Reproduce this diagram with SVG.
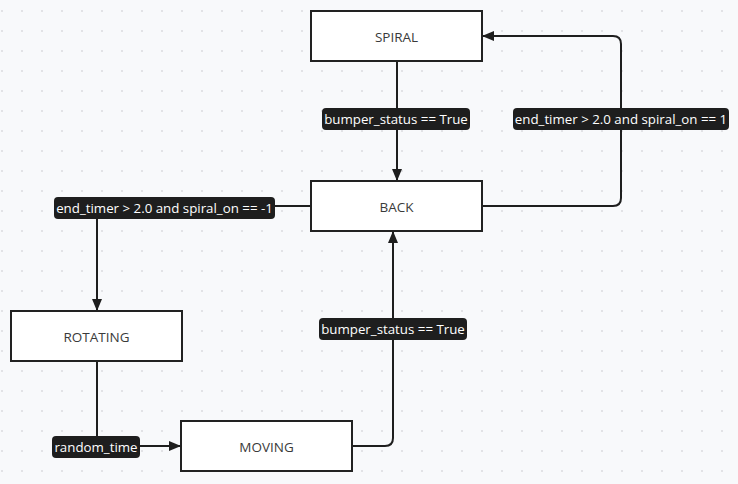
<svg xmlns="http://www.w3.org/2000/svg" width="738" height="484" viewBox="0 0 738 484">
<defs>
<pattern id="dots" x="0" y="0" width="20" height="20" patternUnits="userSpaceOnUse">
<circle cx="2" cy="11" r="1.1" fill="#dcdde1"/>
</pattern>
<marker id="arr" viewBox="0 0 12 10" refX="12" refY="5" markerWidth="12" markerHeight="10" markerUnits="userSpaceOnUse" orient="auto">
<path d="M0,0 L12,5 L0,10 Z" fill="#1e1e1e"/>
</marker>
<style>
.node rect{fill:#ffffff;stroke:#222222;stroke-width:2}
.node text{font-family:"Open Sans","Noto Sans",sans-serif;font-size:13.5px;fill:#3a3a3a;text-anchor:middle;dominant-baseline:central}
.edge{fill:none;stroke:#1e1e1e;stroke-width:2}
.lbl rect{fill:#1e1e1e;rx:4;ry:4}
.lbl text{font-family:"Open Sans","Noto Sans",sans-serif;font-size:13.3px;fill:#ffffff;text-anchor:middle;dominant-baseline:central}
</style>
</defs>
<rect width="738" height="484" fill="#f8f9fb"/>
<rect width="738" height="484" fill="url(#dots)"/>
<g id="connectors">
<path class="edge" d="M397,61 V181" marker-end="url(#arr)"/>
<path class="edge" d="M482,206 H613 Q621,206 621,198 V44 Q621,36 613,36 H482" marker-end="url(#arr)"/>
<path class="edge" d="M311,206 H105 Q97,206 97,214 V311" marker-end="url(#arr)"/>
<path class="edge" d="M97,361 V446 H181" marker-end="url(#arr)"/>
<path class="edge" d="M352,446 H385 Q393,446 393,438 V231" marker-end="url(#arr)"/>
<g class="lbl"><rect x="322" y="108" width="148" height="22"/><text x="396" y="119">bumper_status == True</text></g>
<g class="lbl"><rect x="513" y="108" width="216" height="22"/><text x="621" y="119">end_timer &gt; 2.0 and spiral_on == 1</text></g>
<g class="lbl"><rect x="54" y="197" width="221" height="22"/><text x="164.5" y="208">end_timer &gt; 2.0 and spiral_on == -1</text></g>
<g class="lbl"><rect x="319" y="318" width="148" height="22"/><text x="393" y="329">bumper_status == True</text></g>
<g class="lbl"><rect x="52" y="436" width="88" height="22"/><text x="96" y="447">random_time</text></g>
</g>
<g id="SPIRAL" class="node"><rect x="311" y="11" width="171" height="50"/><text x="396.5" y="37">SPIRAL</text></g>
<g id="BACK" class="node"><rect x="311" y="181" width="171" height="50"/><text x="396.5" y="207">BACK</text></g>
<g id="ROTATING" class="node"><rect x="11" y="311" width="171" height="50"/><text x="96.5" y="337">ROTATING</text></g>
<g id="MOVING" class="node"><rect x="181" y="421" width="171" height="50"/><text x="266.5" y="447">MOVING</text></g>
</svg>
